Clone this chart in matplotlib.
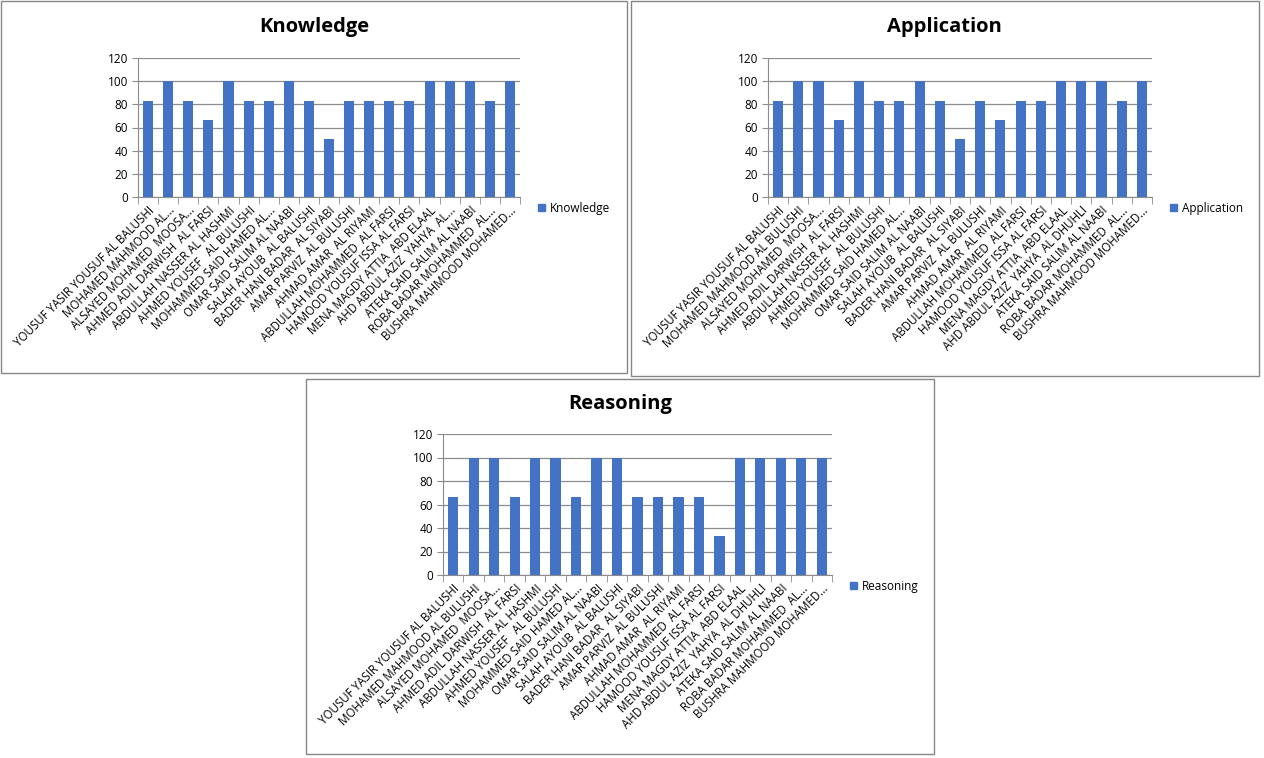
import matplotlib
matplotlib.use("Agg")
import matplotlib.pyplot as plt
from matplotlib.patches import Rectangle, Patch
import numpy as np

names_k = ["YOUSUF YASIR YOUSUF AL BALUSHI", "MOHAMED MAHMOOD AL...", "ALSAYED MOHAMED  MOOSA...",
           "AHMED ADIL DARWISH  AL FARSI", "ABDULLAH NASSER AL HASHMI", "AHMED YOUSEF   AL BULUSHI",
           "MOHAMMED SAID HAMED AL...", "OMAR SAID SALIM AL NAABI", "SALAH AYOUB  AL BALUSHI",
           "BADER HANI BADAR  AL SIYABI", "AMAR PARVIZ  AL BULUSHI", "AHMAD AMAR  AL RIYAMI",
           "ABDULLAH MOHAMMED  AL FARSI", "HAMOOD YOUSUF ISSA AL FARSI", "MENA MAGDY ATTIA  ABD ELAAL",
           "AHD ABDUL AZIZ  YAHYA  AL...", "ATEKA SAID SALIM AL NAABI", "ROBA BADAR MOHAMMED  AL...",
           "BUSHRA MAHMOOD MOHAMED..."]
names_ar = ["YOUSUF YASIR YOUSUF AL BALUSHI", "MOHAMED MAHMOOD AL BULUSHI", "ALSAYED MOHAMED  MOOSA...",
            "AHMED ADIL DARWISH  AL FARSI", "ABDULLAH NASSER AL HASHMI", "AHMED YOUSEF   AL BULUSHI",
            "MOHAMMED SAID HAMED AL...", "OMAR SAID SALIM AL NAABI", "SALAH AYOUB  AL BALUSHI",
            "BADER HANI BADAR  AL SIYABI", "AMAR PARVIZ  AL BULUSHI", "AHMAD AMAR  AL RIYAMI",
            "ABDULLAH MOHAMMED  AL FARSI", "HAMOOD YOUSUF ISSA AL FARSI", "MENA MAGDY ATTIA  ABD ELAAL",
            "AHD ABDUL AZIZ  YAHYA  AL DHUHLI", "ATEKA SAID SALIM AL NAABI", "ROBA BADAR MOHAMMED  AL...",
            "BUSHRA MAHMOOD MOHAMED..."]

knowledge = [83.3, 100, 83.3, 66.7, 100, 83.3, 83.3, 100, 83.3, 50, 83.3, 83.3, 83.3, 83.3, 100, 100, 100, 83.3, 100]
application = [83.3, 100, 100, 66.7, 100, 83.3, 83.3, 100, 83.3, 50, 83.3, 66.7, 83.3, 83.3, 100, 100, 100, 83.3, 100]
reasoning = [66.7, 100, 100, 66.7, 100, 100, 66.7, 100, 100, 66.7, 66.7, 66.7, 66.7, 33.3, 100, 100, 100, 100, 100]
yticks = [0, 20, 40, 60, 80, 100, 120]

W, H = 1264, 758
plt.rcParams['font.family'] = ['Open Sans', 'DejaVu Sans']
fig = plt.figure(figsize=(W / 100, H / 100), dpi=100)
fig.patch.set_facecolor('white')

BAR = '#4472C4'
GRID = '#8C8C8C'

def px_rect(x0, y0, x1, y1):
    return [x0 / W, 1 - y1 / H, (x1 - x0) / W, (y1 - y0) / H]

panels = [
    dict(title="Knowledge", vals=knowledge, names=names_k, frame=(1, 1, 627, 373),
         ax=(138, 58, 520, 197), tx=314, ty=27),
    dict(title="Application", vals=application, names=names_ar, frame=(631, 1, 1259, 376),
         ax=(768, 58, 1152, 197), tx=944, ty=27),
    dict(title="Reasoning", vals=reasoning, names=names_ar, frame=(306, 379, 934, 754),
         ax=(443, 434, 832, 575), tx=620, ty=404),
]

for p in panels:
    x0, y0, x1, y1 = p['frame']
    fig.patches.append(Rectangle((x0 / W, 1 - y1 / H), (x1 - x0) / W, (y1 - y0) / H,
                                 transform=fig.transFigure, fill=False, edgecolor='#868686', lw=1.0))
    fig.text(p['tx'] / W, 1 - p['ty'] / H, p['title'], ha='center', va='center',
             fontsize=14.5, fontweight='bold', color='black')
    ax = fig.add_axes(px_rect(*p['ax']))
    n = len(p['vals'])
    x = np.arange(n)
    ax.bar(x, p['vals'], width=0.5, color=BAR, zorder=3, label=p['title'])
    ax.set_xlim(-0.5, n - 0.5)
    ax.set_ylim(0, 120)
    ax.set_yticks(yticks)
    ax.set_yticklabels([str(v) for v in yticks], fontsize=8.5)
    ax.yaxis.grid(True, color=GRID, lw=0.9, zorder=0)
    ax.set_xticks(x)
    ax.set_xticklabels(p['names'], rotation=45, ha='right', rotation_mode='anchor', fontsize=8.3)
    ax.tick_params(axis='x', which='major', length=0, pad=5)
    ax.set_xticks(np.arange(-0.5, n, 1.0), minor=True)
    ax.tick_params(axis='x', which='minor', length=5, color=GRID, direction='out')
    ax.tick_params(axis='y', length=4, color=GRID, direction='out', pad=3)
    for s in ['top', 'right']:
        ax.spines[s].set_visible(False)
    ax.spines['left'].set_color(GRID)
    ax.spines['bottom'].set_color(GRID)
    ax.legend(handles=[Patch(color=BAR, label=p['title'])], loc='center left',
              bbox_to_anchor=(1.02, -0.08), frameon=False, fontsize=8.5,
              handlelength=0.6, handleheight=0.6, handletextpad=0.4)

fig.savefig('out.png', dpi=100, facecolor='white')
